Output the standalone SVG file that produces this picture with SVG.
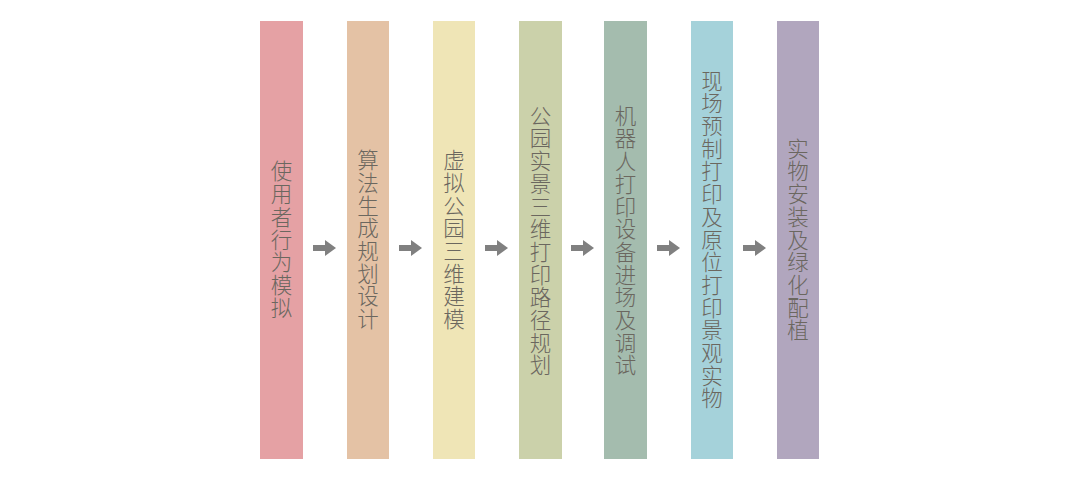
<svg xmlns="http://www.w3.org/2000/svg" width="1080" height="482" viewBox="0 0 1080 482">
<style>
.bar{stroke:none}
.lbl{font-family:"Noto Sans CJK SC","Noto Sans",sans-serif;font-size:21.5px;font-weight:300;fill:#6b675f;writing-mode:vertical-rl;text-anchor:middle;letter-spacing:1.2px}
.arr{fill:#808080}
</style>
<defs>
<path id="arrow" d="M0,-3 H12 V-8 L23,0 L12,8 V3 H0 Z"/>
</defs>
<rect width="1080" height="482" fill="#ffffff"/>
<g id="node1"><rect class="bar" x="260" y="21" width="43" height="438" fill="#e5a1a4"/><text class="lbl" x="281.5" y="240">使用者行为模拟</text></g>
<g id="node2"><rect class="bar" x="347" y="21" width="42" height="438" fill="#e4c2a5"/><text class="lbl" x="368" y="240">算法生成规划设计</text></g>
<g id="node3"><rect class="bar" x="433" y="21" width="42" height="438" fill="#efe5b6"/><text class="lbl" x="454" y="240">虚拟公园三维建模</text></g>
<g id="node4"><rect class="bar" x="519" y="21" width="43" height="438" fill="#cbd1aa"/><text class="lbl" x="540.5" y="241">公园实景三维打印路径规划</text></g>
<g id="node5"><rect class="bar" x="604" y="21" width="43" height="438" fill="#a4bcae"/><text class="lbl" x="625.5" y="241">机器人打印设备进场及调试</text></g>
<g id="node6"><rect class="bar" x="691" y="21" width="42" height="438" fill="#a5d2da"/><text class="lbl" x="712" y="240">现场预制打印及原位打印景观实物</text></g>
<g id="node7"><rect class="bar" x="777" y="21" width="42" height="438" fill="#b1a6be"/><text class="lbl" x="798" y="240">实物安装及绿化配植</text></g>
<g id="connectors" class="arr">
<use href="#arrow" x="313" y="248"/>
<use href="#arrow" x="399" y="248"/>
<use href="#arrow" x="485" y="248"/>
<use href="#arrow" x="571" y="248"/>
<use href="#arrow" x="657" y="248"/>
<use href="#arrow" x="743" y="248"/>
</g>
</svg>
